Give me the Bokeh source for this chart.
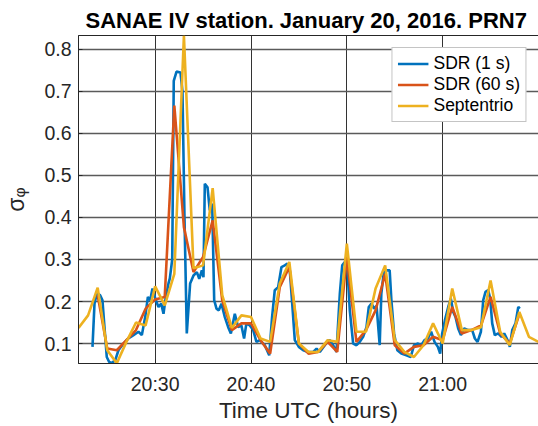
from bokeh.plotting import figure
from bokeh.models import Range1d, FixedTicker
from bokeh.embed import file_html
from bokeh.resources import INLINE

# time in minutes after 20:00 UTC
sept_t = list(range(22, 71))
sept_v = [0.137, 0.167, 0.233, 0.084, 0.053, 0.104, 0.150, 0.143, 0.236, 0.191,
          0.266, 0.833, 0.279, 0.286, 0.470, 0.215, 0.137, 0.167, 0.163, 0.112,
          0.104, 0.243, 0.294, 0.100, 0.080, 0.080, 0.108, 0.104, 0.338, 0.128,
          0.128, 0.231, 0.286, 0.108, 0.080, 0.068, 0.096, 0.148, 0.100, 0.231,
          0.132, 0.132, 0.139, 0.250, 0.128, 0.096, 0.175, 0.116, 0.104]

sdr60_t = list(range(24, 69))
sdr60_v = [0.215, 0.088, 0.084, 0.108, 0.132, 0.183, 0.205, 0.211, 0.666, 0.377,
           0.270, 0.306, 0.393, 0.203, 0.132, 0.148, 0.148, 0.108, 0.076, 0.234,
           0.282, 0.100, 0.076, 0.080, 0.104, 0.080, 0.306, 0.104, 0.132, 0.179,
           0.266, 0.096, 0.076, 0.092, 0.096, 0.116, 0.108, 0.187, 0.124, 0.132,
           0.143, 0.211, 0.124, 0.100, 0.170]

sdr1_t = [23.46, 23.67, 23.91, 24.26, 24.5, 24.71, 24.95, 25.2, 25.48, 25.83,
          26.17, 26.7, 27.2, 27.74, 28.26, 28.61, 28.96, 29.24, 29.48, 29.72,
          30.07, 30.35, 30.63, 30.87, 31.11, 31.39, 31.53, 31.78, 31.94, 32.23,
          32.64, 32.85, 33.06, 33.3, 33.65, 34.0, 34.35, 34.6, 34.87, 35.04,
          35.18, 35.46, 35.7, 35.95, 36.16, 36.4, 36.64, 36.92, 37.27, 37.62,
          37.9, 38.31, 38.66, 39.0, 39.28, 39.52, 39.87, 40.23, 40.57, 40.92,
          41.44, 41.9, 42.2, 42.48, 42.83, 43.18, 43.52, 43.8, 44.05, 44.3,
          44.57, 44.99, 45.45, 45.97, 46.49, 46.84, 47.18, 47.7, 48.05, 48.23,
          48.58, 48.92, 49.27, 49.52, 49.79, 50.07, 50.31, 50.66, 51.01, 51.35,
          51.7, 52.05, 52.29, 52.57, 52.85, 53.1, 53.43, 53.6, 53.88, 54.23,
          54.47, 54.65, 54.93, 55.27, 55.69, 56.21, 56.67, 57.01, 57.43, 57.77,
          58.1, 58.46, 58.8, 59.15, 59.5, 59.74, 59.95, 60.23, 60.58, 60.85,
          61.1, 61.34, 61.62, 61.9, 62.25, 62.67, 63.08, 63.36, 63.64, 63.99,
          64.23, 64.47, 64.75, 64.96, 65.17, 65.44, 65.79, 66.14, 66.42, 66.77,
          67.01, 67.26, 67.6, 67.89, 68.05]
sdr1_v = [0.092, 0.195, 0.219, 0.215, 0.203, 0.139, 0.068, 0.056, 0.054, 0.060,
          0.084, 0.100, 0.112, 0.120, 0.128, 0.120, 0.163, 0.211, 0.203, 0.231,
          0.203, 0.187, 0.195, 0.171, 0.211, 0.243, 0.255, 0.300, 0.725, 0.747,
          0.745, 0.700, 0.400, 0.124, 0.243, 0.262, 0.270, 0.254, 0.274, 0.258,
          0.480, 0.472, 0.417, 0.433, 0.203, 0.183, 0.179, 0.195, 0.163, 0.139,
          0.124, 0.171, 0.139, 0.143, 0.112, 0.148, 0.143, 0.132, 0.104, 0.108,
          0.096, 0.072, 0.163, 0.227, 0.234, 0.282, 0.286, 0.290, 0.274, 0.195,
          0.108, 0.092, 0.084, 0.080, 0.080, 0.088, 0.080, 0.096, 0.108, 0.108,
          0.096, 0.080, 0.219, 0.286, 0.294, 0.274, 0.179, 0.100, 0.096, 0.104,
          0.116, 0.139, 0.187, 0.195, 0.183, 0.190, 0.096, 0.219, 0.274, 0.274,
          0.274, 0.203, 0.124, 0.084, 0.076, 0.072, 0.068, 0.096, 0.100, 0.096,
          0.108, 0.112, 0.128, 0.104, 0.092, 0.076, 0.124, 0.155, 0.187, 0.207,
          0.175, 0.163, 0.136, 0.120, 0.136, 0.132, 0.132, 0.112, 0.104, 0.128,
          0.203, 0.223, 0.227, 0.207, 0.148, 0.120, 0.124, 0.116, 0.124, 0.108,
          0.092, 0.132, 0.148, 0.187, 0.183]

x_ticks = [30, 40, 50, 60]
x_tick_labels = ["20:30", "20:40", "20:50", "21:00"]
y_ticks = [0.1, 0.2, 0.3, 0.4, 0.5, 0.6, 0.7, 0.8]

FONT = "Liberation Sans"

p = figure(frame_width=460, frame_height=328, output_backend="svg",
           toolbar_location=None,
           x_range=Range1d(22, 70), y_range=Range1d(0.0525, 0.833),
           min_border_left=77, min_border_right=1, min_border_top=35,
           min_border_bottom=55)

p.title.text = "SANAE IV station. January 20, 2016. PRN7"
p.title.align = "left"
p.title.offset = 7
p.title.text_font = FONT
p.title.text_font_size = "22px"
p.title.text_font_style = "bold"
p.title.text_color = "black"
p.title.standoff = 6

p.line(sdr1_t, sdr1_v, line_color="#0072BD", line_width=2.6, legend_label="SDR (1 s)")
p.line(sdr60_t, sdr60_v, line_color="#D95319", line_width=2.6, legend_label="SDR (60 s)")
p.line(sept_t, sept_v, line_color="#EDB120", line_width=2.6, legend_label="Septentrio")

p.xaxis.ticker = FixedTicker(ticks=x_ticks)
p.xaxis.major_label_overrides = {t: l for t, l in zip(x_ticks, x_tick_labels)}
p.yaxis.ticker = FixedTicker(ticks=y_ticks)

for ax in (p.xaxis, p.yaxis):
    ax.major_label_text_font = FONT
    ax.major_label_text_font_size = "19.5px"
    ax.major_label_text_color = "#262626"
    ax.axis_line_color = "#262626"
    ax.major_tick_line_color = "#262626"
    ax.major_tick_in = 4
    ax.major_tick_out = 0
    ax.minor_tick_line_color = None
    ax.axis_label_text_font = FONT
    ax.axis_label_text_font_style = "normal"
    ax.axis_label_text_color = "#262626"
p.xaxis.major_label_standoff = 9
p.yaxis.major_label_standoff = 7
p.yaxis.formatter.use_scientific = False

p.xaxis.axis_label = "Time UTC (hours)"
p.xaxis.axis_label_text_font_size = "22.5px"
p.xaxis.axis_label_standoff = 0

p.yaxis.axis_label = "σᵩ"
p.yaxis.axis_label_text_font_size = "23px"
p.yaxis.axis_label_standoff = 12

p.xgrid.grid_line_color = "#333333"
p.xgrid.grid_line_width = 1
p.ygrid.grid_line_color = "#5a5a5a"
p.ygrid.grid_line_width = 1.3
p.outline_line_color = "#262626"
p.outline_line_width = 1
p.background_fill_color = "white"
p.border_fill_color = "white"

lg = p.legend[0]
lg.location = "top_right"
lg.margin = 12
lg.padding = 5
lg.spacing = 0
lg.label_height = 21
lg.glyph_height = 21
lg.glyph_width = 31
lg.label_standoff = 5
lg.label_text_font = FONT
lg.label_text_font_size = "17.5px"
lg.label_text_color = "black"
lg.border_line_color = "#8a8a8a"
lg.border_line_width = 1
lg.background_fill_alpha = 1

open("out.html", "w").write(file_html(p, INLINE))
